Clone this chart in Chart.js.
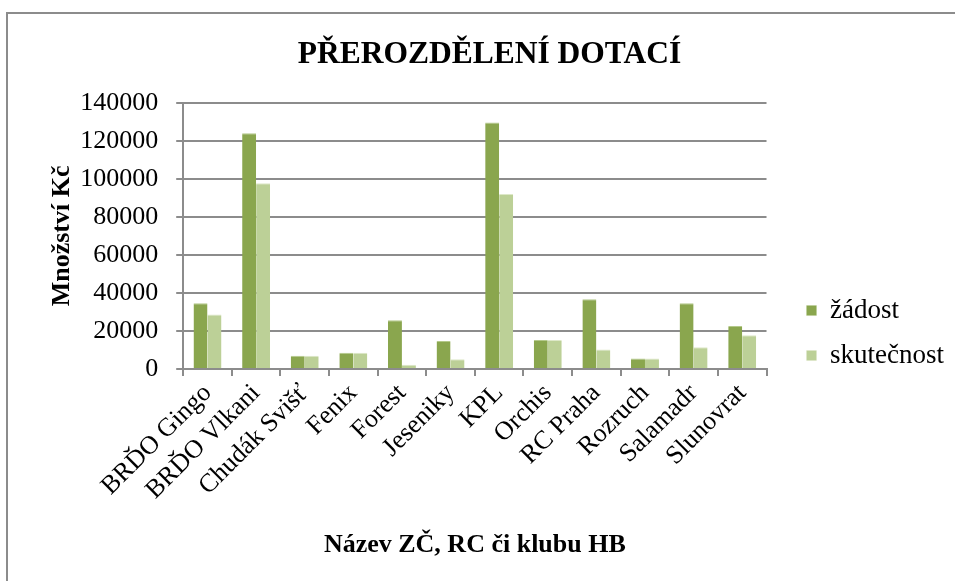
<!DOCTYPE html>
<html>
<head>
<meta charset="utf-8">
<script src="https://cdn.jsdelivr.net/npm/chart.js@4.4.1/dist/chart.umd.min.js"></script>
<style>
  html, body { margin: 0; padding: 0; background: #fff; }
  #wrap { position: relative; width: 955px; height: 581px; overflow: hidden; }
  #frame { position: absolute; left: 6px; top: 12px; width: 1000px; height: 600px;
           border-left: 2px solid #8c8c8c; border-top: 2px solid #8c8c8c; }
  canvas { position: absolute; left: 0; top: 0; }
</style>
</head>
<body>
<div id="wrap">
  <div id="frame"></div>
  <canvas id="dotaceChart" width="955" height="581"></canvas>
</div>
<script>
// --- Data ---
const categories = ['BRĎO Gingo', 'BRĎO Vlkani', 'Chudák Svišť', 'Fenix', 'Forest', 'Jeseniky',
                    'KPL', 'Orchis', 'RC Praha', 'Rozruch', 'Salamadr', 'Slunovrat'];
const zadost      = [34600, 124000, 7000, 8500, 25700, 14700, 129700, 15200, 36700, 5600, 34600, 22600];
const skutecnost  = [28700, 97700, 7000, 8500, 2300, 5200, 92000, 15200, 10300, 5600, 11400, 17700];
const yTicks      = [0, 20000, 40000, 60000, 80000, 100000, 120000, 140000];

const serif = "'Liberation Serif', 'Times New Roman', serif";
const gridColor = '#8c8c8c';

// legend sits a bit lower and further from the plot than Chart.js puts it
const legendNudge = {
    id: 'legendNudge',
    afterLayout(chart) {
        const lg = chart.legend;
        if (!lg) return;
        lg.left += 22; lg.right += 22;
        lg.top += 18; lg.bottom += 18;
    }
};

const ctx = document.getElementById('dotaceChart').getContext('2d');

const myChart = new Chart(ctx, {
    type: 'bar',
    data: {
        labels: categories,
        datasets: [
            {
                label: 'žádost',
                data: zadost,
                backgroundColor: '#8aa64e',
                borderColor: '#b4c98a',
                borderWidth: { top: 1, left: 0, right: 0, bottom: 0 },
                categoryPercentage: 0.575,
                barPercentage: 1.0
            },
            {
                label: 'skutečnost',
                data: skutecnost,
                backgroundColor: '#bcd097',
                borderColor: '#dde8c8',
                borderWidth: { top: 1, left: 0, right: 0, bottom: 0 },
                categoryPercentage: 0.575,
                barPercentage: 1.0
            }
        ]
    },
    plugins: [legendNudge],
    options: {
        responsive: false,
        animation: false,
        layout: {
            padding: { left: 47, right: 23, top: 36, bottom: 20 }
        },
        plugins: {
            title: {
                display: true,
                text: 'PŘEROZDĚLENÍ DOTACÍ',
                color: '#000',
                font: { family: serif, size: 31.5, weight: 'bold' },
                padding: { top: 0, bottom: 29 }
            },
            legend: {
                position: 'right',
                align: 'end',
                fullSize: false,
                labels: {
                    boxWidth: 10,
                    boxHeight: 10,
                    padding: 18,
                    color: '#000',
                    font: { family: serif, size: 27 }
                }
            },
            tooltip: { enabled: false }
        },
        scales: {
            y: {
                min: 0,
                max: yTicks[yTicks.length - 1],
                afterBuildTicks: (axis) => { axis.ticks = yTicks.map(v => ({ value: v })); },
                grid: {
                    color: gridColor,
                    lineWidth: 2,
                    tickLength: 7
                },
                border: { color: gridColor, width: 2 },
                ticks: {
                    color: '#000',
                    padding: 18,
                    font: { family: serif, size: 26 },
                    callback: (v) => String(v)
                },
                title: {
                    display: true,
                    text: 'Množství Kč',
                    color: '#000',
                    font: { family: serif, size: 26, weight: 'bold' },
                    padding: { top: 0, bottom: -16 }
                }
            },
            x: {
                afterFit: (scale) => { scale.paddingLeft = 0; },
                grid: {
                    drawOnChartArea: false,
                    color: gridColor,
                    lineWidth: 2,
                    tickLength: 7
                },
                border: { color: gridColor, width: 2 },
                ticks: {
                    color: '#000',
                    minRotation: 45,
                    maxRotation: 45,
                    padding: 2,
                    autoSkip: false,
                    font: { family: serif, size: 26 }
                },
                title: {
                    display: true,
                    text: 'Název ZČ, RC či klubu HB',
                    color: '#000',
                    font: { family: serif, size: 26, weight: 'bold' },
                    padding: { top: 22, bottom: 0 }
                }
            }
        }
    }
});
</script>
</body>
</html>
